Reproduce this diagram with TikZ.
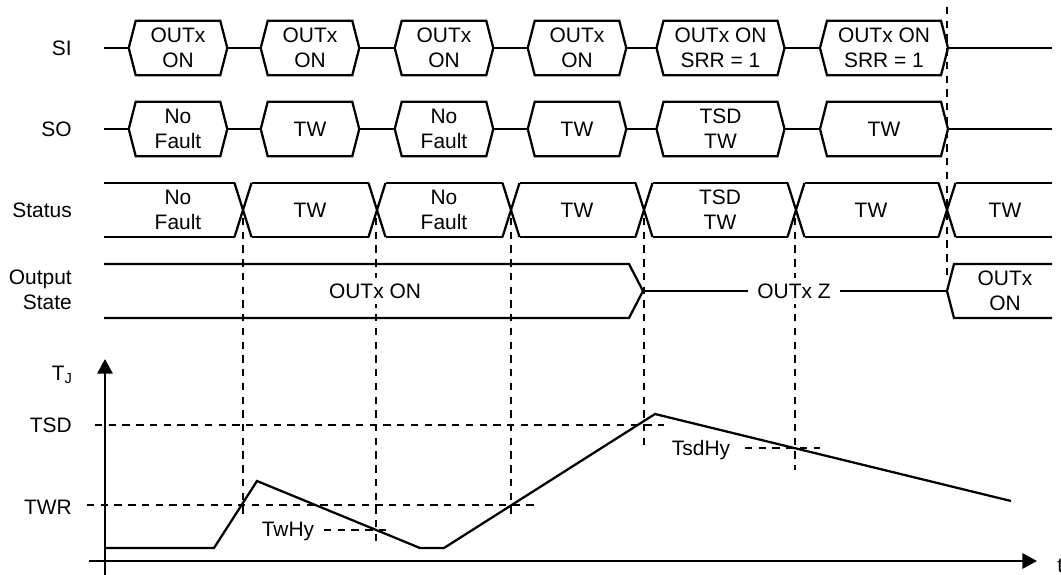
\documentclass[tikz,border=0pt]{standalone}
\usepackage{fontspec}
\setmainfont{Liberation Sans}
\usetikzlibrary{arrows.meta}

\newcommand{\hexframe}[1]{%
  \draw[sig] (#1.west) -- ([xshift=5.25pt]#1.north west) -- ([xshift=-5.25pt]#1.north east)
    -- (#1.east) -- ([xshift=-5.25pt]#1.south east) -- ([xshift=5.25pt]#1.south west) -- cycle;}

\begin{document}
\begin{tikzpicture} [
x=0.75pt, y=-0.75pt,
sig/.style={line width=1.7pt},
guide/.style={line width=1.6pt, dash pattern=on 5.5pt off 4.8pt},
val/.style={inner sep=0pt, align=center, font=\fontsize{15.7}{18.8}\selectfont},
lbl/.style={val, anchor=east, align=right},
busval/.style={val, minimum width=73.5pt, minimum height=40.5pt},
widebus/.style={busval, minimum width=95.6pt},
tip/.style={-{Triangle[length=11pt,width=11.5pt]}},
]
\useasboundingbox (0,0) rectangle (1061,575);

%Labels
\node[lbl]    (si)     at (72,48)   {SI};
\node[lbl]    (so)     at (72,129)  {SO};
\node[lbl]    (status) at (72,210)  {Status};
\node[lbl]    (outst)  at (72,290)  {Output\\State};
\node[val, anchor=base east] (tj) at (73,380) {T\textsubscript{J}};
\node[lbl]    (tsd)    at (72,425)  {TSD};
\node[lbl]    (twr)    at (72,507)  {TWR};

%Nodes
\node[busval]  (si1) at (178,48)   {OUTx\\ON};
\node[busval]  (si2) at (310,48)   {OUTx\\ON};
\node[busval]  (si3) at (444,48)   {OUTx\\ON};
\node[busval]  (si4) at (577,48)   {OUTx\\ON};
\node[widebus] (si5) at (720.5,48) {OUTx ON\\SRR = 1};
\node[widebus] (si6) at (884,48)   {OUTx ON\\SRR = 1};

\node[busval]  (so1) at (178,129)   {No\\Fault};
\node[busval]  (so2) at (310,129)   {TW};
\node[busval]  (so3) at (444,129)   {No\\Fault};
\node[busval]  (so4) at (577,129)   {TW};
\node[widebus] (so5) at (720.5,129) {TSD\\TW};
\node[widebus] (so6) at (884,129)   {TW};

\node[val] (st1) at (178,210)  {No\\Fault};
\node[val] (st2) at (310,210)  {TW};
\node[val] (st3) at (444,210)  {No\\Fault};
\node[val] (st4) at (577,210)  {TW};
\node[val] (st5) at (720,210)  {TSD\\TW};
\node[val] (st6) at (871,210)  {TW};
\node[val] (st7) at (1005,210) {TW};

%Guides
\foreach \x/\y in {243/520, 376/545, 511/520, 644/447, 795/470}
  \draw[guide] (\x,218) -- (\x,\y);
\draw[guide] (947,7) -- (947,278);
\draw[guide] (95,425) -- (664,425);
\draw[guide] (87,505) -- (535,505);
\draw[guide] (324,530) -- (392,530);
\draw[guide] (745,448) -- (820,448);

%Bus lines
\foreach \n in {si1,si2,si3,si4,si5,si6,so1,so2,so3,so4,so5,so6}
  \hexframe{\n};
\foreach \a/\b in {si1/si2, si2/si3, si3/si4, si4/si5, si5/si6, so1/so2, so2/so3, so3/so4, so4/so5, so5/so6}
  \draw[sig] (\a.east) -- (\b.west);
\draw[sig] (104,48) -- (si1.west);
\draw[sig] (si6.east) -- (1052,48);
\draw[sig] (104,129) -- (so1.west);
\draw[sig] (so6.east) -- (1052,129);

%Status
\foreach \a/\b in {104/234.5, 251.5/368.5, 385.5/502.5, 519.5/635.5, 652.5/787.5, 804.5/938.5, 955.5/1052}
  \draw[sig] (\a,183) -- (\b,183) (\a,237) -- (\b,237);
\foreach \c in {243,377,511,644,796,947}
  \draw[sig] (\c-8.5,183) -- (\c+8.5,237) (\c-8.5,237) -- (\c+8.5,183);

%Output state
\node[val, fill=white, inner sep=4pt] (os1) at (375,291)  {OUTx ON};
\node[val, fill=white, inner xsep=6.5pt, inner ysep=4pt] (os2) at (794,291) {OUTx Z};
\node[val] (os3) at (1005,291) {OUTx\\ON};
\draw[sig] (104,264) -- (629,264) -- (643,291) -- (629,318) -- (104,318);
\draw[sig] (643,291) -- (os2.west);
\draw[sig] (os2.east) -- (947,291);
\draw[sig] (1052,264) -- (954,264) -- (947,291) -- (954,318) -- (1052,318);

%Temperature
\draw[sig, tip] (105,580) -- (105,359);
\draw[sig, tip] (89,561) -- (1037,561);
\node[val, anchor=west] (t) at (1057,566) {t};
\draw[sig] (105,548) -- (214,548) -- (257,481) -- (420,548) -- (444,548) -- (655,414) -- (1011,501);
\node[val] (twhy)  at (288,531) {TwHy};
\node[val] (tsdhy) at (701,450) {TsdHy};

\end{tikzpicture}
\end{document}
